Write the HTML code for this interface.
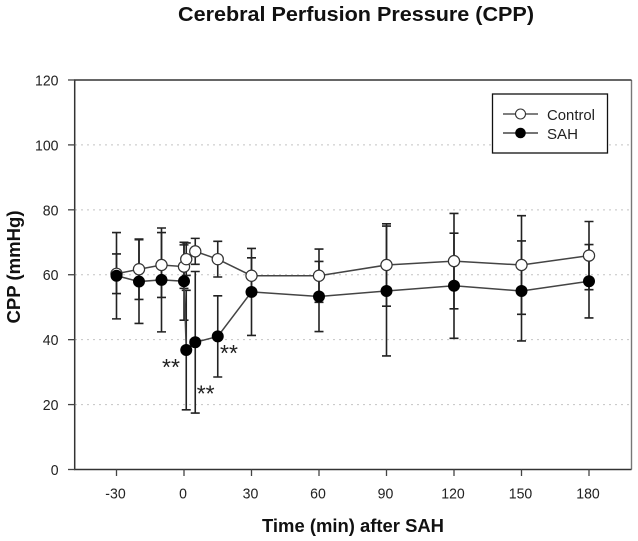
<!DOCTYPE html>
<html lang="en">
<head>
<meta charset="utf-8">
<title>Cerebral Perfusion Pressure (CPP)</title>
<style>
html,body{margin:0;padding:0;background:#fff;width:638px;height:541px;overflow:hidden}
svg{display:block;filter:blur(.3px)}
text{font-family:"Liberation Sans",Arial,sans-serif;fill:#222}
.b{font-weight:bold;fill:#111}
</style>
</head>
<body>
<svg id="chart" xmlns="http://www.w3.org/2000/svg" width="638" height="541" viewBox="0 0 638 541">
<text class="b" x="356" y="21" font-size="20.5" text-anchor="middle" textLength="356" lengthAdjust="spacingAndGlyphs">Cerebral Perfusion Pressure (CPP)</text>
<text class="b" transform="translate(20,267) rotate(-90)" font-size="18" text-anchor="middle" textLength="113" lengthAdjust="spacingAndGlyphs">CPP (mmHg)</text>
<text class="b" x="353" y="532" font-size="18" text-anchor="middle" textLength="182" lengthAdjust="spacingAndGlyphs">Time (min) after SAH</text>
<g id="grid"></g>
<path d="M631.5 80V469.5" fill="none" stroke="#777" stroke-width="1.4"/>
<path d="M631.5 80H74.7V469.5H631.5" fill="none" stroke="#333" stroke-width="1.5"/>
<g id="axes"></g>
<g id="series"></g>
<g>
<text x="171" y="375" font-size="23" text-anchor="middle">**</text>
<text x="205.7" y="401.6" font-size="23" text-anchor="middle">**</text>
<text x="229" y="361" font-size="23" text-anchor="middle">**</text>
</g>
<g>
<rect x="492.5" y="94" width="115" height="59" fill="#fff" stroke="#111" stroke-width="1.3"/>
<g>
<line x1="503" y1="114" x2="538" y2="114" stroke="#333" stroke-width="1.3"/>
<circle cx="520.5" cy="114" r="5" fill="#fff" stroke="#333" stroke-width="1.1"/>
<text x="547" y="120" font-size="15" textLength="48" lengthAdjust="spacingAndGlyphs">Control</text>
</g>
<g>
<line x1="503" y1="133" x2="538" y2="133" stroke="#222" stroke-width="1.3"/>
<circle cx="520.5" cy="133" r="5.3" fill="#000"/>
<text x="547" y="139" font-size="15" textLength="31" lengthAdjust="spacingAndGlyphs">SAH</text>
</g>
</g>
</svg>
<script>
const times = [-30, -20, -10, 0, 1, 5, 15, 30, 60, 90, 120, 150, 180];
const controlMean = [60.3, 61.7, 63, 62.5, 64.8, 67.2, 64.8, 59.7, 59.7, 63, 64.2, 63, 65.9];
const controlSd = [6.1, 9.3, 10, 6.7, 5, 4, 5.5, 5.5, 8.2, 12.7, 14.7, 15.2, 10.5];
const sahMean = [59.7, 57.9, 58.4, 58, 36.8, 39.2, 41, 54.7, 53.3, 55, 56.6, 55, 58];
const sahSd = [13.3, 12.9, 16, 12, 18.4, 21.8, 12.5, 13.4, 10.8, 20, 16.2, 15.4, 11.3];
const xTicks = [-30, 0, 30, 60, 90, 120, 150, 180];
const yTicks = [0, 20, 40, 60, 80, 100, 120];

const SVGNS = 'http://www.w3.org/2000/svg';
const xScale = t => 116.5 + (t + 30) * 2.25;
const yScale = v => 469.5 - v * 3.246;

function make(tag, attrs, parent) {
  const el = document.createElementNS(SVGNS, tag);
  for (const k in attrs) el.setAttribute(k, attrs[k]);
  parent.appendChild(el);
  return el;
}

const gridG = document.getElementById('grid');
const axesG = document.getElementById('axes');
const seriesG = document.getElementById('series');

yTicks.forEach(v => {
  const y = yScale(v);
  if (v > 0 && v < 120) {
    const g = make('line', {x1: 75, x2: 631, y1: y, y2: y, stroke: '#c4c4c4', 'stroke-width': 1, 'stroke-dasharray': '2 4'}, gridG);
    
    
  }
  const t = make('line', {x1: 68, x2: 75, y1: y, y2: y, stroke: '#444', 'stroke-width': 1.3}, axesG);
  
  
  const l = make('text', {x: 58.5, y: y + 5.5, 'font-size': 15, 'text-anchor': 'end'}, axesG);
  l.textContent = v;
  
  
  l.setAttribute('textLength', (l.getComputedTextLength() * 0.94).toFixed(1));
  l.setAttribute('lengthAdjust', 'spacingAndGlyphs');
});

xTicks.forEach(v => {
  const x = xScale(v);
  const t = make('line', {x1: x, x2: x, y1: 469.5, y2: 476, stroke: '#444', 'stroke-width': 1.3}, axesG);
  
  
  const l = make('text', {x: x - 1, y: 498.5, 'font-size': 15, 'text-anchor': 'middle'}, axesG);
  l.textContent = v;
  
  
  l.setAttribute('textLength', (l.getComputedTextLength() * 0.94).toFixed(1));
  l.setAttribute('lengthAdjust', 'spacingAndGlyphs');
});

function drawBarsAndLine(name, means, sds) {
  const g = make('g', {}, seriesG);
  
  

  times.forEach((t, i) => {
    const x = xScale(t);
    const hi = yScale(means[i] + sds[i]);
    const lo = yScale(means[i] - sds[i]);
    const bar = make('path', {
      d: 'M' + x + ' ' + hi + 'V' + lo + 'M' + (x - 4.5) + ' ' + hi + 'H' + (x + 4.5) + 'M' + (x - 4.5) + ' ' + lo + 'H' + (x + 4.5),
      fill: 'none', stroke: '#222', 'stroke-width': 1.6
    }, g);
    
    
  });

  const pts = times.map((t, i) => xScale(t) + ',' + yScale(means[i])).join(' ');
  const line = make('polyline', {points: pts, fill: 'none', stroke: '#444', 'stroke-width': 1.5}, g);
  
  
}

function drawPoints(name, means, fill, radius) {
  const g = make('g', {}, seriesG);
  
  

  times.forEach((t, i) => {
    const c = make('circle', {cx: xScale(t), cy: yScale(means[i]), r: radius, fill: fill, stroke: fill === '#000' ? 'none' : '#333', 'stroke-width': 1.2}, g);
    
    
  });
}

drawBarsAndLine('control', controlMean, controlSd);
drawBarsAndLine('sah', sahMean, sahSd);
drawPoints('control', controlMean, '#fff', 5.6);
drawPoints('sah', sahMean, '#000', 6);
</script>
</body>
</html>
